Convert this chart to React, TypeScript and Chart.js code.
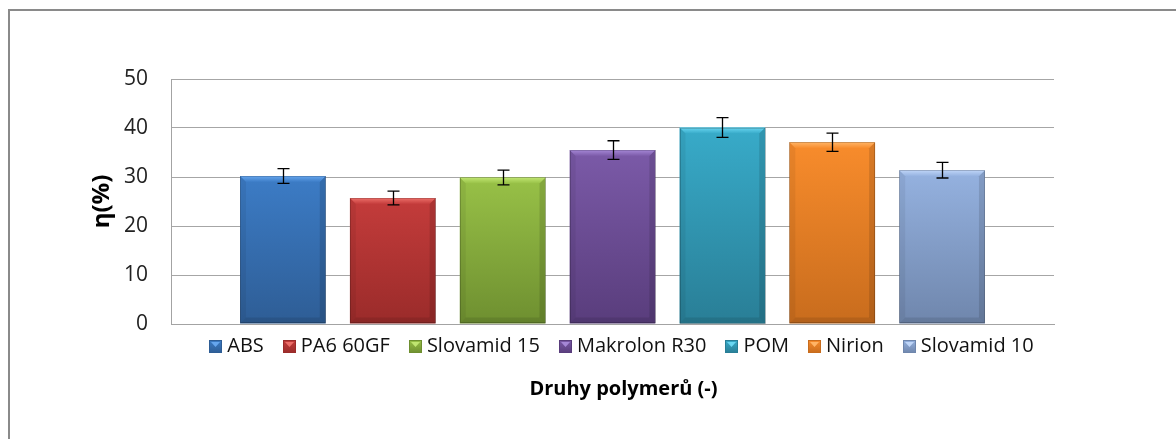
import { useEffect, useRef } from 'react';
import { Chart, registerables } from 'chart.js';

Chart.register(...registerables);

// Measured efficiency per polymer with its standard deviation
const polymers = ['ABS', 'PA6 60GF', 'Slovamid 15', 'Makrolon R30', 'POM', 'Nirion', 'Slovamid 10'];
const efficiency = [30.2, 25.7, 29.9, 35.5, 40.1, 37.1, 31.4];
const efficiencyError = [1.5, 1.4, 1.5, 1.9, 2.0, 1.85, 1.6];
const yTicks = [0, 10, 20, 30, 40, 50];

// Bevelled bar fills: face gradient (top -> bottom) and light top edge
const faceTop = ['#3c7cc6', '#c43c3b', '#98c147', '#7b5aa8', '#38abc9', '#f88c2c', '#95b2e0'];
const faceBottom = ['#2e5d95', '#9a2b2a', '#6e8f30', '#593d7c', '#297e96', '#c86c1d', '#6f86ac'];
const bevelLight = ['#66a6ee', '#ec6e69', '#c0e571', '#a587d6', '#6ad7f2', '#ffb466', '#c0d6f8'];

const yAxisTitle = 'η(%)';
const xAxisTitle = 'Druhy polymerů (-)';

const FONT = '"Open Sans", sans-serif';

const bevelPlugin = {
  id: 'bevel',
  afterDatasetsDraw(chart: any) {
    const ctx = chart.ctx;
    const s = 6;
    polymers.forEach((_, i) => {
      const bar = chart.getDatasetMeta(i).data[0];
      if (!bar) return;
      const { x, y, base, width } = bar.getProps(['x', 'y', 'base', 'width'], true);
      const l = x - width / 2;
      const r = x + width / 2;
      const t = y;
      const b = base;
      ctx.save();
      const gTop = ctx.createLinearGradient(0, t, 0, t + s);
      gTop.addColorStop(0, bevelLight[i]);
      gTop.addColorStop(1, faceTop[i]);
      ctx.fillStyle = gTop;
      ctx.beginPath();
      ctx.moveTo(l, t);
      ctx.lineTo(r, t);
      ctx.lineTo(r - s, t + s);
      ctx.lineTo(l + s, t + s);
      ctx.closePath();
      ctx.fill();

      ctx.fillStyle = 'rgba(0,0,0,0.06)';
      ctx.beginPath();
      ctx.moveTo(l, t);
      ctx.lineTo(l + s, t + s);
      ctx.lineTo(l + s, b - s);
      ctx.lineTo(l, b);
      ctx.closePath();
      ctx.fill();

      ctx.fillStyle = 'rgba(0,0,0,0.12)';
      ctx.beginPath();
      ctx.moveTo(r, t);
      ctx.lineTo(r - s, t + s);
      ctx.lineTo(r - s, b - s);
      ctx.lineTo(r, b);
      ctx.closePath();
      ctx.fill();

      ctx.fillStyle = 'rgba(0,0,0,0.10)';
      ctx.beginPath();
      ctx.moveTo(l, b);
      ctx.lineTo(l + s, b - s);
      ctx.lineTo(r - s, b - s);
      ctx.lineTo(r, b);
      ctx.closePath();
      ctx.fill();

      ctx.strokeStyle = 'rgba(0,0,0,0.18)';
      ctx.lineWidth = 1;
      ctx.strokeRect(Math.round(l) + 0.5, Math.round(t) + 0.5, Math.round(width) - 1, Math.round(b - t) - 1);
      ctx.restore();
    });
  },
};

const errorBarPlugin = {
  id: 'errorBars',
  afterDatasetsDraw(chart: any) {
    const ctx = chart.ctx;
    const yScale = chart.scales.y;
    ctx.save();
    ctx.strokeStyle = '#000';
    ctx.lineWidth = 1.3;
    const cap = 6;
    polymers.forEach((_, i) => {
      const bar = chart.getDatasetMeta(i).data[0];
      if (!bar) return;
      const x = Math.round(bar.x) + 0.5;
      const hi = yScale.getPixelForValue(efficiency[i] + efficiencyError[i]);
      const lo = yScale.getPixelForValue(efficiency[i] - efficiencyError[i]);
      ctx.beginPath();
      ctx.moveTo(x, hi);
      ctx.lineTo(x, lo);
      ctx.moveTo(x - cap, hi);
      ctx.lineTo(x + cap, hi);
      ctx.moveTo(x - cap, lo);
      ctx.lineTo(x + cap, lo);
      ctx.stroke();
    });
    ctx.restore();
  },
};

// Legend row and x-axis title under the plot
const footerPlugin = {
  id: 'footer',
  afterDraw(chart: any, _args: any, opts: any) {
    const ctx = chart.ctx;
    const area = chart.chartArea;
    const cx = (area.left + area.right) / 2 + opts.shiftX;
    ctx.save();
    ctx.font = `20px ${FONT}`;
    ctx.textBaseline = 'middle';
    ctx.textAlign = 'left';
    const m = 13;
    const gapText = 5;
    const gapItem = 19;
    const widths = polymers.map((p) => ctx.measureText(p).width);
    const total = widths.reduce((a, w) => a + m + gapText + w, 0) + gapItem * (polymers.length - 1);
    let x = cx - total / 2;
    const cy = area.bottom + opts.legendOffset;
    polymers.forEach((p, i) => {
      const mx = Math.round(x);
      const my = Math.round(cy - m / 2);
      const g = ctx.createLinearGradient(0, my, 0, my + m);
      g.addColorStop(0, faceTop[i]);
      g.addColorStop(1, faceBottom[i]);
      ctx.fillStyle = g;
      ctx.fillRect(mx, my, m, m);
      ctx.fillStyle = bevelLight[i];
      ctx.beginPath();
      ctx.moveTo(mx + 2, my + 2);
      ctx.lineTo(mx + m - 2, my + 2);
      ctx.lineTo(mx + m / 2, my + m / 2 + 0.5);
      ctx.closePath();
      ctx.fill();
      ctx.strokeStyle = faceBottom[i];
      ctx.lineWidth = 1;
      ctx.strokeRect(mx + 0.5, my + 0.5, m - 1, m - 1);
      x += m + gapText;
      ctx.fillStyle = '#111';
      ctx.fillText(p, x, cy);
      x += widths[i] + gapItem;
    });
    ctx.font = `bold 20px ${FONT}`;
    ctx.textAlign = 'center';
    ctx.fillStyle = '#000';
    ctx.fillText(xAxisTitle, cx + 2, area.bottom + opts.titleOffset);
    ctx.restore();
  },
};

export default function App() {
  const canvasRef = useRef<HTMLCanvasElement | null>(null);

  useEffect(() => {
    const canvas = canvasRef.current;
    if (!canvas) return;
    const chart = new Chart(canvas, {
      type: 'bar',
      data: {
        labels: [''],
        datasets: polymers.map((name, i) => ({
          label: name,
          data: [efficiency[i]],
          borderWidth: 0,
          backgroundColor: (c: any) => {
            const ch = c.chart;
            const ys = ch.scales?.y;
            if (!ys || !ch.chartArea) return faceTop[i];
            const top = ys.getPixelForValue(efficiency[i]);
            const bottom = ys.getPixelForValue(0);
            const g = ch.ctx.createLinearGradient(0, top, 0, bottom);
            g.addColorStop(0, faceTop[i]);
            g.addColorStop(1, faceBottom[i]);
            return g;
          },
        })),
      },
      options: {
        animation: false,
        responsive: false,
        events: [],
        categoryPercentage: 0.871,
        barPercentage: 0.78,
        layout: { padding: { top: 68, right: 122, bottom: 115, left: 0 } },
        scales: {
          x: {
            type: 'category',
            grid: { display: false, drawTicks: false },
            border: { display: true, color: '#a3a3a3', width: 1 },
            ticks: { display: false },
          },
          y: {
            min: 0,
            max: 50,
            afterBuildTicks: (s: any) => {
              s.ticks = yTicks.map((v) => ({ value: v }));
            },
            afterFit: (s: any) => {
              s.width = 161;
            },
            ticks: {
              color: '#222',
              padding: 23,
              font: { family: FONT, size: 21 },
            },
            grid: { color: '#a6a6a6', lineWidth: 1, drawTicks: false },
            border: { display: true, color: '#a3a3a3', width: 1 },
            title: {
              display: true,
              text: yAxisTitle,
              color: '#000',
              font: { family: FONT, size: 24, weight: 'bold' },
              padding: { top: 78, bottom: 0 },
            },
          },
        },
        plugins: {
          legend: { display: false },
          tooltip: { enabled: false },
          footer: { shiftX: 9, legendOffset: 22.5, titleOffset: 65 },
        } as any,
      },
      plugins: [bevelPlugin, errorBarPlugin, footerPlugin],
    });
    return () => chart.destroy();
  }, []);

  return (
    <div
      style={{
        position: 'absolute',
        left: 8,
        top: 9,
        width: 1166,
        height: 428,
        borderLeft: '2px solid #8a8a8a',
        borderTop: '2px solid #8a8a8a',
        overflow: 'hidden',
        background: '#fff',
      }}
    >
      <canvas ref={canvasRef} width={1166} height={428} style={{ display: 'block' }} />
    </div>
  );
}
